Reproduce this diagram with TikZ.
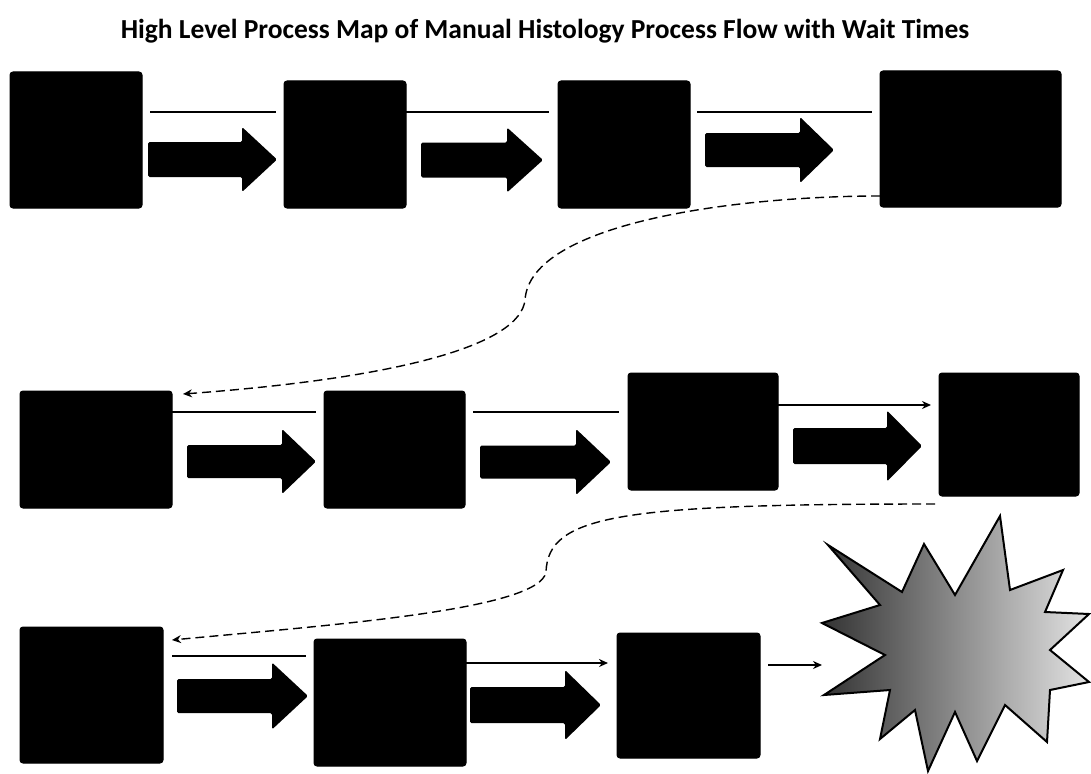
\documentclass[tikz,border=0pt]{standalone}
\usepackage{fontspec}
\setmainfont{Carlito}
\usetikzlibrary{arrows.meta}
\tikzset{
  stepbox/.style={draw=black, fill=black, rounded corners=3pt, inner sep=0pt, outer sep=0pt, line width=1pt},
  link/.style={line width=1.8pt, black},
  tiplink/.style={link, -{Stealth[length=9pt,width=8pt]}},
  curvelink/.style={line width=1.4pt, black, dash pattern=on 9pt off 5pt, -{Stealth[length=9pt,width=8pt]}},
  blockfill/.style={fill=black, rounded corners=1.5pt},
}
% block arrow: #1 start x, #2 head base x, #3 tip x, #4 centre y, #5 shaft half height, #6 head half height
\newcommand\blockarrow[6]{%
  \path[blockfill] (#1,#4-#5) -- (#2,#4-#5) -- (#2,#4-#6) -- (#3,#4) -- (#2,#4+#6)
    -- (#2,#4+#5) -- (#1,#4+#5) -- cycle;}
\begin{document}
\begin{tikzpicture}[x=1pt,y=-1pt]
\useasboundingbox (0,0) rectangle (1091,773);

% title
\node (title) at (545,31) {\bfseries\fontsize{27.5}{32}\selectfont High Level Process Map of Manual Histology Process Flow with Wait Times};

% row 1
\node[stepbox, minimum width=132pt, minimum height=136pt] (b1) at (76,140) {};
\node[stepbox, minimum width=122pt, minimum height=127pt] (b2) at (345,144.5) {};
\node[stepbox, minimum width=132pt, minimum height=127pt] (b3) at (624,144.5) {};
\node[stepbox, minimum width=181pt, minimum height=136pt] (b4) at (970.5,139) {};

% row 2
\node[stepbox, minimum width=152pt, minimum height=117pt] (b5) at (96,449.5) {};
\node[stepbox, minimum width=141pt, minimum height=117pt] (b6) at (394.5,449.5) {};
\node[stepbox, minimum width=150pt, minimum height=117pt] (b7) at (703,431.5) {};
\node[stepbox, minimum width=140pt, minimum height=123pt] (b8) at (1009,434.5) {};

% row 3
\node[stepbox, minimum width=143pt, minimum height=136pt] (b9) at (91.5,695) {};
\node[stepbox, minimum width=152pt, minimum height=127pt] (b10) at (390,702.5) {};
\node[stepbox, minimum width=143pt, minimum height=125pt] (b11) at (688.5,695.5) {};

% final burst
\coordinate (burst) at (955,650);
\shade[left color=gray!40!black, right color=gray!22, draw=black, line width=2pt, line join=miter]
  (1000,516) -- (1010,590) -- (1063,570) -- (1045,612) -- (1089,614) -- (1050,650)
  -- (1089,682) -- (1050,690) -- (1047,742) -- (1005,705) -- (977,761) -- (955,712)
  -- (928,771) -- (915,710) -- (880,739) -- (890,690) -- (824,695) -- (885,655)
  -- (822,623) -- (880,605) -- (828,545) -- (902,592) -- (924,544) -- (955,595) -- cycle;

% wait arrows
\blockarrow{148}{242}{277}{159.5}{17.5}{32.5}
\blockarrow{421}{507}{543}{160}{17.5}{32.5}
\blockarrow{705}{800}{834}{150}{17}{33}
\blockarrow{187}{282}{316}{461.5}{16.5}{32.5}
\blockarrow{480}{576}{611}{462}{16.5}{33}
\blockarrow{793}{887}{922}{446}{18}{35.5}
\blockarrow{177}{272}{308}{696}{17}{33.5}
\blockarrow{470}{565}{601}{705}{18}{35}

% lines above the wait arrows
\draw[link, shorten <=8pt, shorten >=8pt] (b1.east |- 0,112) -- (b2.west |- 0,112);
\draw[link, shorten >=9pt] (b2.east |- 0,112) -- (b3.west |- 0,112);
\draw[link, shorten <=7pt, shorten >=8pt] (b3.east |- 0,112) -- (b4.west |- 0,112);
\draw[link, shorten >=8pt] (b5.east |- 0,412) -- (b6.west |- 0,412);
\draw[link, shorten <=8pt, shorten >=9pt] (b6.east |- 0,412) -- (b7.west |- 0,412);
\draw[tiplink, shorten >=8pt] (b7.east |- 0,405) -- (b8.west |- 0,405);
\draw[link, shorten <=9pt, shorten >=8pt] (b9.east |- 0,656) -- (b10.west |- 0,656);
\draw[tiplink, shorten >=9pt] (b10.east |- 0,663) -- (b11.west |- 0,663);
\draw[tiplink, shorten <=8pt] (b11.east |- 0,665) -- (822,665);

% row to row connectors
\draw[curvelink] (b4.west |- 0,196) .. controls (740,196) and (530,222) .. (525,300)
  .. controls (520,345) and (400,378) .. ([xshift=11pt]b5.east |- 0,394);
\draw[curvelink] ([xshift=-4pt]b8.west |- 0,504) .. controls (620,504) and (548,515) .. (546,572)
  .. controls (540,610) and (330,625) .. ([xshift=9pt]b9.east |- 0,640);
\end{tikzpicture}
\end{document}
